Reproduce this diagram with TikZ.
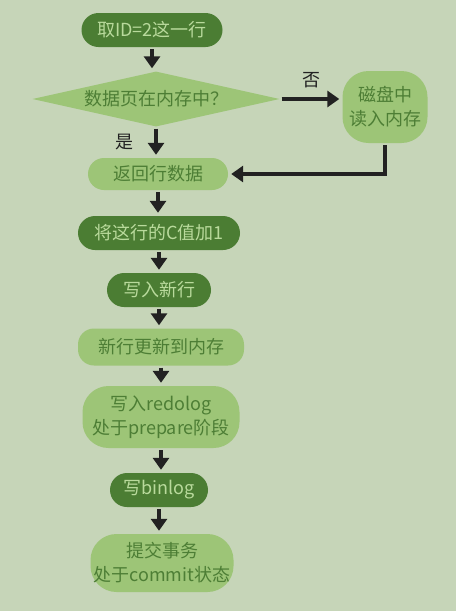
\documentclass[tikz,border=0pt]{standalone}
\usepackage{fontspec}
\newfontfamily\cjk{Noto Sans CJK SC}
\usetikzlibrary{shapes.geometric,arrows.meta}
\definecolor{bgcol}{HTML}{C6D5B8}
\definecolor{darkfill}{HTML}{4B7D33}
\definecolor{lightfill}{HTML}{9DC577}
\definecolor{lighttext}{HTML}{B9DA9C}
\definecolor{darktext}{HTML}{4D7E35}
\definecolor{inkcol}{HTML}{222222}

\tikzset{
  darkbox/.style={rectangle, rounded corners=17pt, fill=darkfill, text=lighttext, minimum height=34pt, inner sep=2pt},
  lightbox/.style={rectangle, rounded corners=16pt, fill=lightfill, text=darktext, minimum height=34pt, inner sep=2pt},
  lightblob/.style={rectangle, rounded corners=26pt, fill=lightfill, text=darktext, align=center, inner sep=2pt},
  decision/.style={diamond, aspect=4.5, fill=lightfill, text=darktext, minimum width=247pt, minimum height=55pt, inner sep=0pt},
  flow/.style={draw=inkcol, line width=3.2pt, -{Triangle[width=16pt,length=12pt]}, shorten >=3pt, shorten <=2pt},
  answer/.style={text=inkcol}
}

\begin{document}
\begin{tikzpicture}[x=1pt, y=-1pt, every node/.append style={font=\cjk\fontsize{18}{24}\selectfont}]
  \fill[bgcol] (0,0) rectangle (456,611);
  \useasboundingbox (0,0) rectangle (456,611);

  \node[darkbox, minimum width=141pt] (fetch) at (152,30) {取ID=2这一行};
  \node[decision] (inmem) at (156,99) {数据页在内存中？};
  \node[lightblob, minimum width=85pt, minimum height=72pt] (disk) at (385,107) {磁盘中\\读入内存};
  \node[lightbox, minimum width=140pt, minimum height=32pt] (ret) at (158,174) {返回行数据};
  \node[darkbox, minimum width=162pt] (addc) at (159,233) {将这行的C值加1};
  \node[darkbox, minimum width=104pt] (newrow) at (159,290) {写入新行};
  \node[lightbox, minimum width=166pt, minimum height=37pt] (upd) at (161,347) {新行更新到内存};
  \node[lightblob, minimum width=157pt, minimum height=62pt] (redo) at (161,417) {写入redolog\\处于prepare阶段};
  \node[darkbox, minimum width=98pt] (binlog) at (159,490) {写binlog};
  \node[lightblob, minimum width=143pt, minimum height=58pt] (commit) at (162,563) {提交事务\\处于commit状态};

  % main column
  \draw[flow] (fetch.south) -- (fetch.south |- inmem.north);
  \draw[flow] (inmem.south) -- (inmem.south |- ret.north) node[midway, left=18pt, answer] {是};
  \draw[flow] (ret.south) -- (ret.south |- addc.north);
  \draw[flow] (addc.south) -- (addc.south |- newrow.north);
  \draw[flow] (newrow.south) -- (newrow.south |- upd.north);
  \draw[flow] (upd.south) -- (upd.south |- redo.north);
  \draw[flow] (redo.south) -- (redo.south |- binlog.north);
  \draw[flow] (binlog.south) -- (binlog.south |- commit.north);

  % not in memory
  \draw[flow] (inmem.east) -- (inmem.east -| disk.west) node[midway, above=6pt, answer] {否};
  \draw[flow] (disk.south) |- (ret.east);
\end{tikzpicture}
\end{document}
